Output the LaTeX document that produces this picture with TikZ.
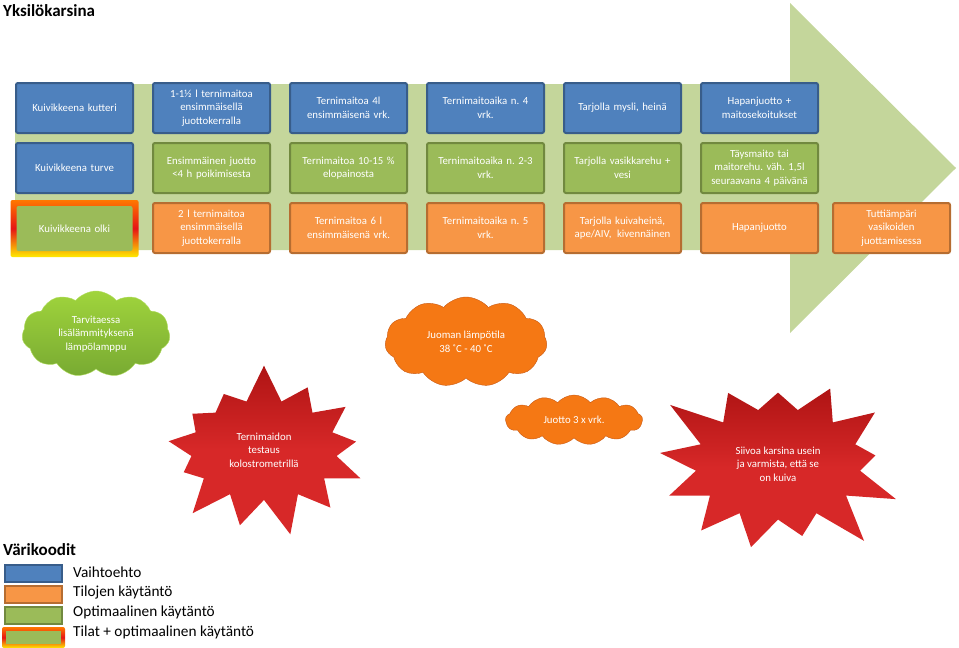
\documentclass[tikz,border=0pt]{standalone}
\usepackage{fontspec}
\setmainfont{Carlito}
\frenchspacing
\usetikzlibrary{positioning,fit,backgrounds,shapes.symbols}
\pgfdeclarelayer{arrowlayer}
\pgfsetlayers{arrowlayer,background,main}
\definecolor{altfill}{RGB}{79,129,189}
\definecolor{altline}{RGB}{56,93,138}
\definecolor{farmfill}{RGB}{247,150,70}
\definecolor{farmline}{RGB}{182,109,49}
\definecolor{optfill}{RGB}{155,187,89}
\definecolor{optline}{RGB}{113,137,63}
\definecolor{arrowgreen}{RGB}{196,214,155}
\definecolor{glowor}{RGB}{255,120,0}
\definecolor{glowred}{RGB}{230,20,20}
\definecolor{glowyel}{RGB}{255,235,0}
\definecolor{limetop}{RGB}{160,212,60}
\definecolor{limebot}{RGB}{120,170,50}
\definecolor{cloudor}{RGB}{245,120,20}
\definecolor{cloudline}{RGB}{200,90,20}
\definecolor{burstred}{RGB}{215,40,40}
\definecolor{burstdark}{RGB}{175,20,20}
\tikzset{
  box/.style={draw, line width=2pt, rounded corners=2pt, align=center, text width=112pt, minimum width=117pt, minimum height=50pt, inner sep=2pt, text=white, font=\fontsize{10.8}{13.5}\selectfont},
  altbox/.style={box, fill=altfill, draw=altline},
  farmbox/.style={box, fill=farmfill, draw=farmline},
  optbox/.style={box, fill=optfill, draw=optline},
  bothbox/.style={box, fill=optfill, draw=none, minimum width=113pt, minimum height=45pt},
  glow/.style={top color=glowor, bottom color=glowyel, middle color=glowred, draw=none, rounded corners=2pt},
  puff/.style={cloud, cloud puffs=11, cloud puff arc=100, cloud ignores aspect, align=center, text=white, font=\fontsize{10.8}{13.5}\selectfont, inner sep=0pt},
  burst/.style={starburst, starburst points=13, align=center, text=white, top color=burstdark, bottom color=burstred, middle color=burstred, font=\fontsize{10.8}{13.5}\selectfont},
  keybox/.style={draw, line width=2pt, minimum width=57pt, minimum height=17pt, inner sep=0pt},
  keytext/.style={anchor=west, font=\fontsize{15.3}{17}\selectfont, inner sep=0pt},
  heading/.style={anchor=north west, font=\fontsize{17}{19}\selectfont\bfseries, inner sep=0pt}
}
\begin{document}
\begin{tikzpicture}[x=1pt, y=-1pt, node distance=8pt and 18pt]
  \useasboundingbox (0,0) rectangle (959,648);
  \node[heading] (title) at (3,4) {Yksilökarsina};

  % Big arrow behind the boxes
  \begin{pgfonlayer}{arrowlayer}
    \fill[arrowgreen] (15,84) -- (790,84) -- (790,3) -- (956,168) -- (790,333) -- (790,250) -- (15,250) -- cycle;
  \end{pgfonlayer}

  % Row 1
  \node[altbox] (a1) at (74.5,108) {Kuivikkeena kutteri};
  \node[altbox, right=of a1] (a2) {1-1½ l ternimaitoa\\ensimmäisellä\\juottokerralla};
  \node[altbox, right=of a2] (a3) {Ternimaitoa 4l\\ensimmäisenä vrk.};
  \node[altbox, right=of a3] (a4) {Ternimaitoaika n. 4\\vrk.};
  \node[altbox, right=of a4] (a5) {Tarjolla mysli, heinä};
  \node[altbox, right=of a5] (a6) {Hapanjuotto +\\maitosekoitukset};

  % Row 2
  \node[altbox, below=of a1] (o1) {Kuivikkeena turve};
  \node[optbox, below=of a2] (o2) {Ensimmäinen juotto\\<4 h poikimisesta};
  \node[optbox, below=of a3] (o3) {Ternimaitoa 10-15 \%\\elopainosta};
  \node[optbox, below=of a4] (o4) {Ternimaitoaika n. 2-3\\vrk.};
  \node[optbox, below=of a5] (o5) {Tarjolla vasikkarehu +\\vesi};
  \node[optbox, below=of a6] (o6) {Täysmaito tai\\maitorehu. väh. 1,5l\\seuraavana 4 päivänä};

  % Row 3
  \node[bothbox, below=11pt of o1] (f1) {Kuivikkeena olki};
  \node[farmbox, below=of o2] (f2) {2 l ternimaitoa\\ensimmäisellä\\juottokerralla};
  \node[farmbox, below=of o3] (f3) {Ternimaitoa 6 l\\ensimmäisenä vrk.};
  \node[farmbox, below=of o4] (f4) {Ternimaitoaika n. 5\\vrk.};
  \node[farmbox, below=of o5] (f5) {Tarjolla kuivaheinä,\\ape/AIV,\enspace kivennäinen};
  \node[farmbox, below=of o6] (f6) {Hapanjuotto};
  \node[farmbox, right=13pt of f6] (f7) {Tuttiämpäri\\vasikoiden\\juottamisessa};
  \begin{scope}[on background layer]
    \node[glow, fit=(f1), inner sep=5pt] (f1glow) {};
  \end{scope}

  % Clouds and bursts
  \node[puff, top color=limetop, bottom color=limebot, draw=limetop!80!white, minimum width=148pt, minimum height=86pt] (lamp) at (96,334) {Tarvitaessa\\lisälämmityksenä\\lämpölamppu};
  \node[puff, fill=cloudor, draw=cloudline, minimum width=162pt, minimum height=90pt] (temp) at (466,342) {Juoman lämpötila\\38 ˚C - 40 ˚C};
  \node[puff, fill=cloudor, draw=cloudline, minimum width=137pt, minimum height=50pt, cloud puffs=13] (times) at (574,420) {Juotto 3 x vrk.};
  \node[burst, inner xsep=17pt, inner ysep=18pt, starburst point height=38pt, random starburst=7] (test) at (264,450) {Ternimaidon\\testaus\\kolostrometrillä};
  \node[burst, inner xsep=16pt, inner ysep=22pt, starburst point height=50pt, random starburst=3] (clean) at (778,464) {Siivoa karsina usein\\ja varmista, että se\\on kuiva};

  % Legend
  \node[heading] (keytitle) at (3,543) {Värikoodit};
  \node[keybox, fill=altfill, draw=altline, anchor=north west] (k1) at (4,564) {};
  \node[keybox, fill=farmfill, draw=farmline, below=2pt of k1] (k2) {};
  \node[keybox, fill=optfill, draw=optline, below=2pt of k2] (k3) {};
  \node[keybox, fill=optfill, draw=none, minimum width=55pt, minimum height=13pt, below=5pt of k3] (k4) {};
  \begin{scope}[on background layer]
    \node[glow, fit=(k4), inner sep=3pt] (k4glow) {};
  \end{scope}
  \node[keytext] (t1) at (73,572) {Vaihtoehto};
  \node[keytext] (t2) at (73,592) {Tilojen käytäntö};
  \node[keytext] (t3) at (73,612) {Optimaalinen käytäntö};
  \node[keytext] (t4) at (73,632) {Tilat + optimaalinen käytäntö};
\end{tikzpicture}
\end{document}
